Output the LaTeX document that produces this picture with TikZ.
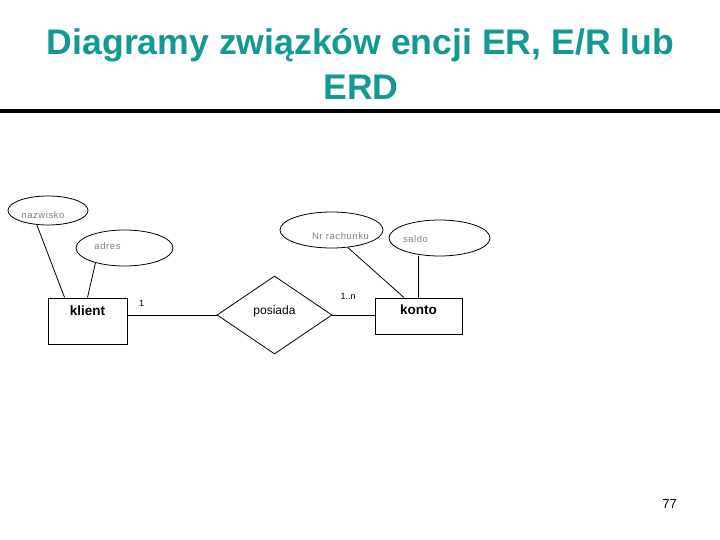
\documentclass[tikz,border=0pt]{standalone}
\usepackage{fontspec}
\setmainfont{Liberation Sans}
\newfontfamily\attrfont[LetterSpace=6]{Liberation Sans}
\usetikzlibrary{shapes.geometric}
\definecolor{titleteal}{RGB}{20,152,146}
\definecolor{attrgray}{RGB}{128,128,128}
\begin{document}
\begin{tikzpicture}[x=1pt, y=-1pt, line width=0.8pt,
  titletext/.style={font=\fontsize{35.6}{45}\selectfont\bfseries, text=titleteal, inner sep=0pt},
  entity/.style={draw, rectangle, inner sep=0pt},
  attrib/.style={draw, ellipse, inner sep=0pt},
  relation/.style={draw, diamond, inner sep=0pt, aspect=1.47},
  enttext/.style={font=\fontsize{13.5}{16}\selectfont\bfseries, inner sep=0pt},
  attrtext/.style={font=\attrfont\fontsize{9.5}{11}\selectfont, text=attrgray, inner sep=0pt},
  reltext/.style={font=\fontsize{12}{14}\selectfont, inner sep=0pt},
  card/.style={font=\fontsize{9}{11}\selectfont, inner sep=1pt}]
  \useasboundingbox (0,0) rectangle (720,540);
  % Title and the rule under it
  \node[titletext, anchor=base] (title) at (360.5,55) {Diagramy związków encji ER, E/R lub};
  \node[titletext, anchor=base] (titleerd) at (361,100) {ERD};
  \draw[line width=4pt] (0,111) -- (720,111);
  % Entities
  \node[entity, minimum width=79pt, minimum height=46pt,
    label={[enttext, yshift=10pt]center:klient}] (klient) at (87.5,321) {};
  \node[entity, minimum width=87pt, minimum height=36pt,
    label={[enttext, yshift=6pt]center:konto}] (konto) at (418.5,316) {};
  % Attributes
  \node[attrib, minimum width=80pt, minimum height=29pt,
    label={[attrtext, xshift=-5pt, yshift=-4.5pt]center:nazwisko}] (nazwisko) at (48,210.5) {};
  \node[attrib, minimum width=97pt, minimum height=36pt,
    label={[attrtext, xshift=-17pt, yshift=2pt]center:adres}] (adres) at (124.5,248) {};
  \node[attrib, minimum width=103pt, minimum height=36pt,
    label={[attrtext, xshift=9pt, yshift=-6pt]center:Nr rachunku}] (nrrachunku) at (331.5,230) {};
  \node[attrib, minimum width=101pt, minimum height=36pt,
    label={[attrtext, xshift=-24pt, yshift=-1pt]center:saldo}] (saldo) at (439.5,238) {};
  % Relationship
  \node[relation, minimum width=115pt, minimum height=78pt,
    label={[reltext, yshift=4pt]center:posiada}] (posiada) at (274.5,315) {};
  % Connectors
  \draw (klient.east |- posiada.west) -- (posiada.west) node[card, pos=0.16, above=7pt] {1};
  \draw (posiada.east) -- (posiada.east -| konto.west) node[card, pos=0.37, above=14pt] {1..n};
  \draw (nazwisko.232) -- ([xshift=17pt]klient.north west);
  \draw (adres.207) -- (klient.north);
  \draw (nrrachunku.313) -- ([xshift=-14.5pt]konto.north);
  \draw (saldo.south -| konto.north) -- (konto.north);
  % Page number
  \node[font=\fontsize{13}{15}\selectfont] (pagenum) at (669.5,504) {77};
\end{tikzpicture}
\end{document}
